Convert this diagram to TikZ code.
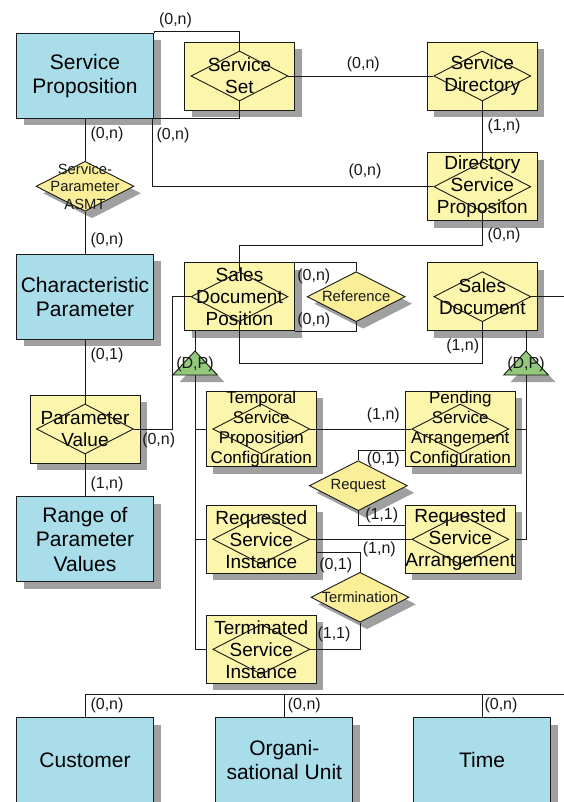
\documentclass[tikz,border=0pt]{standalone}
\usepackage{fontspec}
\setmainfont{Liberation Sans}
\usetikzlibrary{shapes.geometric,shadows,calc}
\definecolor{entblue}{RGB}{168,221,233}
\definecolor{boxyel}{RGB}{252,245,172}
\definecolor{diayel}{RGB}{250,239,152}
\definecolor{trigreen}{RGB}{146,201,122}
\definecolor{shgray}{RGB}{160,160,160}
\definecolor{ink}{RGB}{25,25,25}
\tikzset{
  sh/.style={drop shadow={shadow xshift=7pt,shadow yshift=-7pt,fill=shgray,opacity=1}},
  entity/.style={rectangle,draw=ink,fill=entblue,minimum width=137pt,minimum height=85pt,inner sep=0pt,align=center,font=\fontsize{21}{24.3}\selectfont,sh},
  relbox/.style={rectangle,draw=ink,fill=boxyel,minimum width=110pt,minimum height=68pt,inner sep=0pt,align=center,font=\fontsize{19}{22}\selectfont,sh},
  relboxfour/.style={relbox,font=\fontsize{17}{20}\selectfont},
  innerdia/.style={diamond,draw=ink,minimum width=97pt,minimum height=50pt,inner sep=0pt,aspect=2},
  rel/.style={diamond,draw=ink,fill=diayel,minimum width=98pt,minimum height=50pt,inner sep=0pt,aspect=2,sh},
  reltext/.style={font=\fontsize{14.8}{17.5}\selectfont,align=center,inner sep=0pt,text=ink},
  card/.style={font=\fontsize{16}{18}\selectfont,inner sep=0pt,text=ink},
  conn/.style={draw=ink}
}
\begin{document}
\begin{tikzpicture}[x=1pt,y=-1pt,line width=0.9pt]
\clip (0,0) rectangle (564,802);
\fill[white] (0,0) rectangle (564,802);

% entities
\node[entity] (SP) at (85,76) {Service\\Proposition};
\node[entity] (CP) at (85,296.7) {Characteristic\\Parameter};
\node[entity] (RPV) at (85,539.3) {Range of\\Parameter\\Values};
\node[entity] (CUST) at (85,760) {Customer};
\node[entity] (ORG) at (284.3,760) {Organi-\\sational Unit};
\node[entity] (TIME) at (482,760) {Time};

% relationship boxes
\node[relbox] (SS) at (239.5,76) {Service\\Set};
\node[innerdia] (SSd) at (SS.center) {};
\node[relbox] (SD) at (482.3,76) {Service\\Directory};
\node[innerdia] (SDd) at (SD.center) {};
\node[relbox] (DSP) at (482.3,186.7) {Directory\\Service\\Propositon};
\node[innerdia] (DSPd) at (DSP.center) {};
\node[relbox] (SDP) at (239.5,296.7) {Sales\\Document\\Position};
\node[innerdia] (SDPd) at (SDP.center) {};
\node[relbox] (SDOC) at (482.3,296.7) {Sales\\Document};
\node[innerdia] (SDOCd) at (SDOC.center) {};
\node[relbox] (PV) at (85,429) {Parameter\\Value};
\node[innerdia] (PVd) at (PV.center) {};
\node[relboxfour] (TSPC) at (261.3,429) {Temporal\\Service\\Proposition\\Configuration};
\node[innerdia] (TSPCd) at (TSPC.center) {};
\node[relboxfour] (PSAC) at (460.3,429) {Pending\\Service\\Arrangement\\Configuration};
\node[innerdia] (PSACd) at (PSAC.center) {};
\node[relbox] (RSI) at (261.3,539.3) {Requested\\Service\\Instance};
\node[innerdia] (RSId) at (RSI.center) {};
\node[relbox] (RSA) at (460.3,539.3) {Requested\\Service\\Arrangement};
\node[innerdia] (RSAd) at (RSA.center) {};
\node[relbox] (TSI) at (261.3,649.3) {Terminated\\Service\\Instance};
\node[innerdia] (TSId) at (TSI.center) {};

% plain relationship diamonds
\node[rel,label={[reltext]center:{Service-\\Parameter\\ASMT}}] (SPA) at (85,186.3) {};
\node[rel,label={[reltext]center:Reference}] (REF) at (356.2,296.7) {};
\node[rel,label={[reltext]center:Request}] (REQ) at (358.3,485.7) {};
\node[rel,label={[reltext]center:Termination}] (TERM) at (360,597.3) {};

% generalisation triangles
\coordinate (T1top) at (195,351);
\coordinate (T1base) at (195,375);
\coordinate (T2top) at (526,351);
\coordinate (T2base) at (526,375);
\fill[shgray] ($(T1top)+(7,7)$) -- ++(22.3,24) -- ++(-44.6,0) -- cycle;
\fill[shgray] ($(T2top)+(7,7)$) -- ++(22.3,24) -- ++(-44.6,0) -- cycle;
\draw[ink,fill=trigreen] (T1top) -- ++(22.3,24) -- ++(-44.6,0) -- cycle;
\draw[ink,fill=trigreen] (T2top) -- ++(22.3,24) -- ++(-44.6,0) -- cycle;
\node[card] (T1lbl) at (195,364) {(D,P)};
\node[card] (T2lbl) at (526,364) {(D,P)};

% connectors
\coordinate (c1) at ($(SP.north east)+(0,-1.5)$);
\draw[conn] (SP.north east) -- (c1) -| (SSd.north);
\draw[conn] (SSd.south) |- (SP.south east);
\draw[conn] ($(SP.south east)+(-2,0)$) |- (DSPd.west);
\draw[conn] (SSd.east) -- (SDd.west);
\draw[conn] (SDd.south) -- (DSPd.north);
\draw[conn] (DSPd.south) |- ($(SDPd.north)+(0,-26)$) -- (SDPd.north);
\draw[conn] (SP.south) -- (SPA.north);
\draw[conn] (SPA.south) -- (CP.north);
\draw[conn] (CP.south) -- (PVd.north);
\draw[conn] (PVd.south) -- (RPV.north);
\draw[conn] (PVd.east) -| ($(SDPd.west)+(-18.3,0)$) -- (SDPd.west);
\draw[conn] (SDP.north east) -| (REF.north);
\draw[conn] (SDP.south east) -| (REF.south);
\draw[conn] (SDPd.south) |- ($(SDOCd.south)+(0,41)$) -- (SDOCd.south);
\coordinate (edgeR) at (564,296.7);
\draw[conn] (SDOCd.east) -- (edgeR);
\draw[conn] (T1top) -- (T1top |- SDP.south);
\draw[conn] (T1base) -- (T1base |- TSI.west) -- (TSI.west);
\draw[conn] (T1base |- TSPC.west) -- (TSPC.west);
\draw[conn] (T1base |- RSI.west) -- (RSI.west);
\draw[conn] (T2top) -- (T2top |- SDOC.south);
\draw[conn] (T2base) -- (T2base |- RSA.east) -- (RSA.east);
\draw[conn] (T2base |- PSAC.east) -- (PSAC.east);
\draw[conn] (TSPCd.east) -- (PSACd.west);
\draw[conn] ($(PSAC.west)+(0,21)$) -| (REQ.north);
\draw[conn] (REQ.south) |- ($(RSA.west)+(0,-14)$);
\draw[conn] (RSId.east) -- (RSAd.west);
\draw[conn] ($(RSI.east)+(0,13.4)$) -| (TERM.north);
\draw[conn] (TERM.south) |- (TSId.east);
\coordinate (busR) at (564,694);
\draw[conn] (CUST.north) |- (busR);
\draw[conn] (ORG.north) -- (ORG.north |- busR);
\draw[conn] (TIME.north) -- (TIME.north |- busR);

% cardinalities
\node[card] (k1) at (175.5,20) {(0,n)};
\node[card] (k2) at (173,135) {(0,n)};
\node[card] (k3) at (363.3,64) {(0,n)};
\node[card] (k4) at (504,126) {(1,n)};
\node[card] (k5) at (365,171) {(0,n)};
\node[card] (k6) at (504,235) {(0,n)};
\node[card] (k7) at (107,134) {(0,n)};
\node[card] (k8) at (107,240) {(0,n)};
\node[card] (k9) at (107,355) {(0,1)};
\node[card] (k10) at (107,484) {(1,n)};
\node[card] (k11) at (158.7,440.7) {(0,n)};
\node[card] (k12) at (313.8,276) {(0,n)};
\node[card] (k13) at (313.8,320) {(0,n)};
\node[card] (k14) at (462.7,346) {(1,n)};
\node[card] (k15) at (383.3,415.7) {(1,n)};
\node[card] (k16) at (383.3,459) {(0,1)};
\node[card] (k17) at (381.7,515) {(1,1)};
\node[card] (k18) at (379.3,549) {(1,n)};
\node[card] (k19) at (335.7,565) {(0,1)};
\node[card] (k20) at (334,634.3) {(1,1)};
\node[card] (k21) at (107,705) {(0,n)};
\node[card] (k22) at (304.3,705) {(0,n)};
\node[card] (k23) at (501,705) {(0,n)};
\end{tikzpicture}
\end{document}
